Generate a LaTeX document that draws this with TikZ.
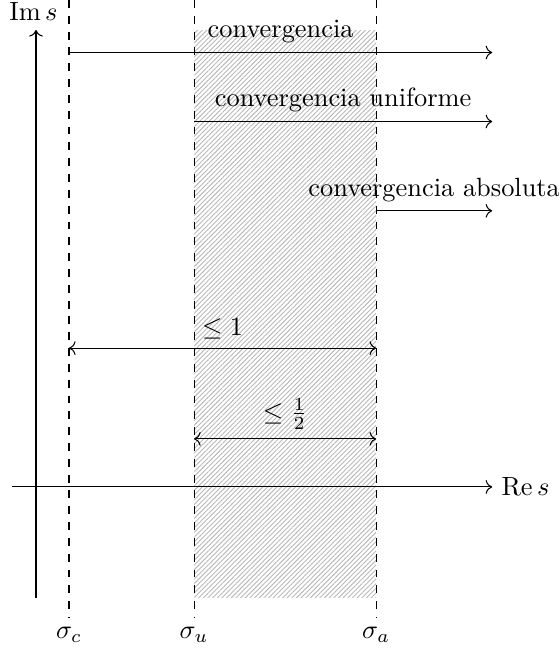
\documentclass[tikz,border=0pt]{standalone}
\usepackage{amsmath}
\usepackage{amsfonts}
\usetikzlibrary{positioning}
\usetikzlibrary{arrows.meta}
\usetikzlibrary{patterns.meta}

\begin{document}
\begin{tikzpicture}[
    axis/.style={->},
    abscissa/.style={dashed},
    band/.style={pattern={Lines[angle=45, distance=1.25pt, line width=0.35pt]}, pattern color=gray!55},
    span/.style={->},
    width/.style={<->},
    ]
        \useasboundingbox (-0.48,-2.2) rectangle (6.96,6.49);

        % franja rayada entre sigma_u y sigma_a
        \fill[band] (2.107,-1.48) rectangle (4.533,6.09);

        % ejes
        \coordinate (ybot) at (0,-1.48);
        \coordinate (ytop) at (0,6.09);
        \coordinate (xleft) at (-0.32,0);
        \coordinate (xright) at (6.08,0);
        \node[above = 0pt of ytop, xshift=-1pt] (ims) {$\operatorname{Im} s$};
        \node[right = 0pt of xright] (res) {$\operatorname{Re} s$};
        \draw[axis] (ybot) -- (ytop);
        \draw[axis] (xleft) -- (xright);

        % abscisas
        \coordinate (sctop) at (0.44,6.49);
        \coordinate (scbot) at (0.44,-1.75);
        \coordinate (sutop) at (2.107,6.49);
        \coordinate (subot) at (2.107,-1.75);
        \coordinate (satop) at (4.533,6.49);
        \coordinate (sabot) at (4.533,-1.75);
        \draw[abscissa] (sctop) -- (scbot);
        \draw[abscissa] (sutop) -- (subot);
        \draw[abscissa] (satop) -- (sabot);
        \node[below = 0pt of scbot] (sc) {$\sigma_c$};
        \node[below = 0pt of subot] (su) {$\sigma_u$};
        \node[below = 0pt of sabot] (sa) {$\sigma_a$};

        % semiplanos de convergencia
        \coordinate (c0) at (0.44,5.79);
        \coordinate (c1) at (6.08,5.79);
        \coordinate (u0) at (2.107,4.87);
        \coordinate (u1) at (6.08,4.87);
        \coordinate (a0) at (4.533,3.68);
        \coordinate (a1) at (6.08,3.68);
        \draw[span] (c0) -- node[midway, above] (conv) {convergencia} (c1);
        \draw[span] (u0) -- node[midway, above] (unif) {convergencia uniforme} (u1);
        \draw[span] (a0) -- node[midway, above] (abso) {convergencia absoluta} (a1);

        % anchuras
        \coordinate (w0) at (0.44,1.85);
        \coordinate (w1) at (4.533,1.85);
        \coordinate (h0) at (2.107,0.64);
        \coordinate (h1) at (4.533,0.64);
        \draw[width] (w0) -- node[midway, above] (one) {$\leq 1$} (w1);
        \draw[width] (h0) -- node[midway, above] (half) {$\leq \frac{1}{2}$} (h1);
    \end{tikzpicture}
\end{document}
